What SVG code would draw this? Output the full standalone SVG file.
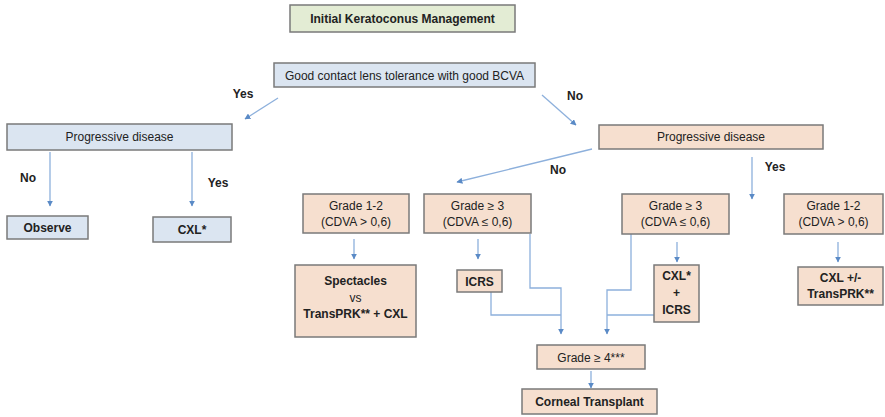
<svg xmlns="http://www.w3.org/2000/svg" width="885" height="417" viewBox="0 0 885 417">
<style>
text{font-family:"Liberation Sans",Arial,sans-serif;font-size:12px;fill:#222;text-anchor:middle}
.b{font-weight:bold}
.box{stroke:#7a7a7a;stroke-width:1.5}
.g{fill:#e3ecd4}
.bl{fill:#dbe5f1}
.p{fill:#f6dfcf}
.c{fill:none;stroke:#8db0dc;stroke-width:1.3}
</style>
<defs>
<marker id="ah" viewBox="0 0 10 10" refX="9" refY="5" markerWidth="6" markerHeight="6" orient="auto" markerUnits="userSpaceOnUse">
<path d="M0,0L10,5L0,10z" fill="#5a8ac6"/>
</marker>
</defs>
<rect width="885" height="417" fill="#fff"/>
<g id="connectors">
<line class="c" x1="278" y1="98" x2="245" y2="119" marker-end="url(#ah)"/>
<line class="c" x1="542" y1="95" x2="576" y2="125" marker-end="url(#ah)"/>
<line class="c" x1="50" y1="152" x2="50" y2="206" marker-end="url(#ah)"/>
<line class="c" x1="192" y1="152" x2="192" y2="206" marker-end="url(#ah)"/>
<line class="c" x1="592" y1="149" x2="457" y2="182" marker-end="url(#ah)"/>
<line class="c" x1="752" y1="157" x2="752" y2="199" marker-end="url(#ah)"/>
<line class="c" x1="354" y1="239" x2="354" y2="259" marker-end="url(#ah)"/>
<line class="c" x1="478" y1="239" x2="478" y2="259" marker-end="url(#ah)"/>
<line class="c" x1="677" y1="242" x2="677" y2="262" marker-end="url(#ah)"/>
<line class="c" x1="838" y1="242" x2="838" y2="262" marker-end="url(#ah)"/>
<polyline class="c" points="530,234 530,288 561,288 561,334" marker-end="url(#ah)"/>
<polyline class="c" points="491,292 491,315 561,315"/>
<polyline class="c" points="631,234 631,290 607,290 607,334" marker-end="url(#ah)"/>
<polyline class="c" points="654,315 607,315"/>
<line class="c" x1="591" y1="371" x2="591" y2="388" marker-end="url(#ah)"/>
</g>
<g id="labels">
<text class="b" x="243" y="98">Yes</text>
<text class="b" x="575" y="100">No</text>
<text class="b" x="28" y="182">No</text>
<text class="b" x="218" y="187">Yes</text>
<text class="b" x="558" y="174">No</text>
<text class="b" x="775" y="171">Yes</text>
</g>
<g id="title"><rect class="box g" x="290" y="5" width="225" height="27"/><text class="b" x="402.5" y="23">Initial Keratoconus Management</text></g>
<g id="contact"><rect class="box bl" x="274" y="63" width="261" height="24"/><text x="404.5" y="79.5">Good contact lens tolerance with good BCVA</text></g>
<g id="prog-left"><rect class="box bl" x="7" y="124" width="225" height="26"/><text x="119.5" y="141">Progressive disease</text></g>
<g id="observe"><rect class="box bl" x="7" y="216" width="81" height="23"/><text class="b" x="47.5" y="232">Observe</text></g>
<g id="cxl-left"><rect class="box bl" x="153" y="217" width="78" height="25"/><text class="b" x="192" y="234">CXL*</text></g>
<g id="prog-right"><rect class="box p" x="599" y="125" width="224" height="24"/><text x="711" y="141">Progressive disease</text></g>
<g id="grade12-left"><rect class="box p" x="303" y="194" width="106" height="39"/><text x="356" y="210">Grade 1-2</text><text x="356" y="226">(CDVA &gt; 0,6)</text></g>
<g id="grade3-left"><rect class="box p" x="424" y="194" width="107" height="39"/><text x="477.5" y="210">Grade ≥ 3</text><text x="477.5" y="226">(CDVA ≤ 0,6)</text></g>
<g id="grade3-right"><rect class="box p" x="622" y="194" width="107" height="40"/><text x="675.5" y="210">Grade ≥ 3</text><text x="675.5" y="226">(CDVA ≤ 0,6)</text></g>
<g id="grade12-right"><rect class="box p" x="784" y="194" width="99" height="40"/><text x="833.5" y="210">Grade 1-2</text><text x="833.5" y="226">(CDVA &gt; 0,6)</text></g>
<g id="spectacles"><rect class="box p" x="295" y="265" width="121" height="72"/><text class="b" x="355.5" y="285">Spectacles</text><text x="355.5" y="302">vs</text><text class="b" x="355.5" y="318">TransPRK** + CXL</text></g>
<g id="icrs"><rect class="box p" x="457" y="270" width="45" height="22"/><text class="b" x="479.5" y="285.5">ICRS</text></g>
<g id="cxl-icrs"><rect class="box p" x="654" y="265" width="45" height="57"/><text class="b" x="676.5" y="280">CXL*</text><text class="b" x="676.5" y="297">+</text><text class="b" x="676.5" y="314">ICRS</text></g>
<g id="cxl-transprk"><rect class="box p" x="798" y="267" width="85" height="38"/><text class="b" x="840.5" y="282">CXL +/-</text><text class="b" x="840.5" y="298">TransPRK**</text></g>
<g id="grade4"><rect class="box p" x="537" y="345" width="108" height="24"/><text x="591" y="361.5">Grade ≥ 4***</text></g>
<g id="transplant"><rect class="box p" x="522" y="389" width="135" height="25"/><text class="b" x="589.5" y="406">Corneal Transplant</text></g>
</svg>
